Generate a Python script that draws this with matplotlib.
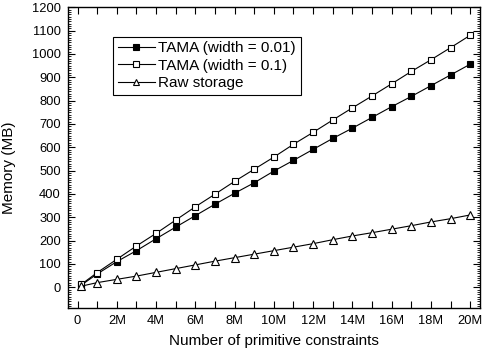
import matplotlib
matplotlib.use("Agg")
import matplotlib.pyplot as plt
from matplotlib.ticker import MultipleLocator, FixedLocator, FixedFormatter

plt.rcParams['font.family'] = ['Liberation Sans', 'DejaVu Sans']

# number of primitive constraints (millions)
constraints_m = [0.2, 1, 2, 3, 4, 5, 6, 7, 8, 9, 10,
                 11, 12, 13, 14, 15, 16, 17, 18, 19, 20]

# memory usage (MB)
tama_001 = [10, 57, 110, 157, 208, 258, 307, 356, 403, 448, 498,
            544, 591, 638, 682, 728, 774, 818, 864, 910, 956]
tama_01 = [13, 63, 120, 177, 231, 288, 345, 399, 454, 506, 558,
           613, 664, 717, 769, 820, 872, 925, 975, 1027, 1080]
raw_storage = [5, 20, 34, 48, 64, 80, 96, 112, 127, 142, 157,
               172, 187, 204, 220, 234, 249, 264, 280, 294, 310]

x_tick_labels = ['0', '', '2M', '', '4M', '', '6M', '', '8M', '', '10M',
                 '', '12M', '', '14M', '', '16M', '', '18M', '', '20M']
y_ticks = list(range(0, 1201, 100))

fig = plt.figure(figsize=(4.84, 3.55), dpi=100)
ax = fig.add_axes([67.7 / 484, 1 - 308.3 / 355, (480 - 67.7) / 484, (308.3 - 7.3) / 355])

line_kw = dict(color='black', linewidth=0.8, markeredgecolor='black',
               markeredgewidth=0.8)
ax.plot(constraints_m, tama_001, marker='s', markersize=4.8,
        markerfacecolor='black', label='TAMA (width = 0.01)', **line_kw)
ax.plot(constraints_m, tama_01, marker='s', markersize=4.8,
        markerfacecolor='white', label='TAMA (width = 0.1)', **line_kw)
ax.plot(constraints_m, raw_storage, marker='^', markersize=6,
        markerfacecolor='white', label='Raw storage', **line_kw)

ax.set_xlim(-0.5, 20.5)
ax.set_ylim(-90, 1200)

ax.xaxis.set_major_locator(FixedLocator(list(range(0, 21))))
ax.xaxis.set_major_formatter(FixedFormatter(x_tick_labels))
ax.yaxis.set_major_locator(FixedLocator(y_ticks))
ax.yaxis.set_minor_locator(MultipleLocator(10))

ax.tick_params(axis='both', which='major', direction='in', length=5,
               width=0.8, labelsize=9.3, top=True, right=True, pad=5)
ax.tick_params(axis='y', which='minor', direction='in', length=2.5,
               width=0.6, right=True)
ax.tick_params(axis='x', which='minor', bottom=False, top=False)
for side in ax.spines.values():
    side.set_linewidth(1.0)

ax.set_xlabel('Number of primitive constraints', fontsize=11, labelpad=5)
ax.set_ylabel('Memory (MB)', fontsize=11)
ax.yaxis.set_label_coords(-0.125, 0.466)

leg = ax.legend(loc='upper left', bbox_to_anchor=(113.3 / 484, 1 - 36.7 / 355),
                bbox_transform=fig.transFigure, borderaxespad=0,
                fontsize=11, frameon=True, fancybox=False, framealpha=1,
                edgecolor='black', handlelength=2.4, handletextpad=0.25,
                labelspacing=0.22, borderpad=0.3)
leg.get_frame().set_linewidth(0.8)
for handle in leg.legend_handles:
    handle.set_markersize(4)

fig.savefig('out.png', dpi=100)
